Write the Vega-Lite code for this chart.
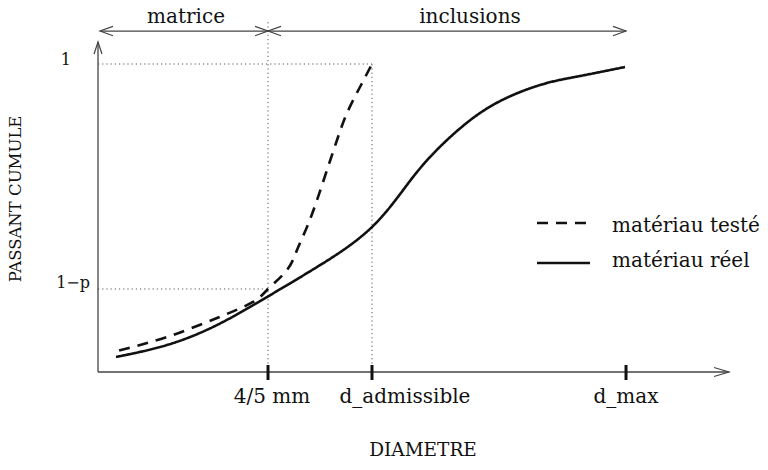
{
  "$schema": "https://vega.github.io/schema/vega-lite/v6.json",
  "width": 768,
  "height": 470,
  "autosize": {"type": "none"},
  "padding": 0,
  "background": "white",
  "config": {"view": {"stroke": null}, "text": {"font": "DejaVu Serif", "color": "#111"}},
  "datasets": {
    "curves": [
      {"serie": "matériau réel", "i": 1, "x": 0.341, "y": 0.0487},
      {"serie": "matériau réel", "i": 2, "x": 1.307, "y": 0.0877},
      {"serie": "matériau réel", "i": 3, "x": 2.254, "y": 0.1526},
      {"serie": "matériau réel", "i": 4, "x": 3.201, "y": 0.2435},
      {"serie": "matériau réel", "i": 5, "x": 4.148, "y": 0.3409},
      {"serie": "matériau réel", "i": 6, "x": 5.189, "y": 0.4708},
      {"serie": "matériau réel", "i": 7, "x": 5.966, "y": 0.6331},
      {"serie": "matériau réel", "i": 8, "x": 6.610, "y": 0.7532},
      {"serie": "matériau réel", "i": 9, "x": 7.235, "y": 0.8409},
      {"serie": "matériau réel", "i": 10, "x": 7.860, "y": 0.8994},
      {"serie": "matériau réel", "i": 11, "x": 8.504, "y": 0.9383},
      {"serie": "matériau réel", "i": 12, "x": 9.129, "y": 0.9610},
      {"serie": "matériau réel", "i": 13, "x": 9.981, "y": 0.9903},
      {"serie": "matériau testé", "i": 1, "x": 0.400, "y": 0.0700},
      {"serie": "matériau testé", "i": 2, "x": 1.307, "y": 0.1136},
      {"serie": "matériau testé", "i": 3, "x": 2.254, "y": 0.1753},
      {"serie": "matériau testé", "i": 4, "x": 2.936, "y": 0.2273},
      {"serie": "matériau testé", "i": 5, "x": 3.220, "y": 0.2695},
      {"serie": "matériau testé", "i": 6, "x": 3.580, "y": 0.3312},
      {"serie": "matériau testé", "i": 7, "x": 3.769, "y": 0.3961},
      {"serie": "matériau testé", "i": 8, "x": 3.958, "y": 0.4708},
      {"serie": "matériau testé", "i": 9, "x": 4.148, "y": 0.5584},
      {"serie": "matériau testé", "i": 10, "x": 4.337, "y": 0.6558},
      {"serie": "matériau testé", "i": 11, "x": 4.527, "y": 0.7532},
      {"serie": "matériau testé", "i": 12, "x": 4.716, "y": 0.8409},
      {"serie": "matériau testé", "i": 13, "x": 4.962, "y": 0.9253},
      {"serie": "matériau testé", "i": 14, "x": 5.189, "y": 1.0}
    ],
    "guides": [
      {"x": 3.22, "x2": 3.22, "y": 0, "y2": 1.136},
      {"x": 5.189, "x2": 5.189, "y": 0, "y2": 1.0},
      {"x": 0, "x2": 5.189, "y": 1.0, "y2": 1.0},
      {"x": 0, "x2": 3.22, "y": 0.2695, "y2": 0.2695}
    ],
    "axes": [
      {"x": 0, "x2": 11.95, "y": 0, "y2": 0},
      {"x": 0, "x2": 0, "y": 0, "y2": 1.0714},
      {"x": 0.038, "x2": 10.0, "y": 1.107, "y2": 1.107}
    ],
    "ticks": [
      {"x": 3.22, "y": -0.026, "y2": 0.0227},
      {"x": 5.189, "y": -0.026, "y2": 0.0227},
      {"x": 10.0, "y": -0.026, "y2": 0.0227}
    ],
    "arrows": [
      {"grp": "top", "dir": "left", "x": 0.038, "y": 1.107},
      {"grp": "top", "dir": "right", "x": 3.22, "y": 1.107},
      {"grp": "top", "dir": "left", "x": 3.22, "y": 1.107},
      {"grp": "top", "dir": "right", "x": 10.0, "y": 1.107},
      {"grp": "xaxis", "dir": "right", "x": 11.95, "y": 0},
      {"grp": "yaxis", "dir": "up", "x": 0, "y": 1.0714}
    ],
    "legend": [
      {"serie": "matériau testé", "x": 8.314, "x2": 9.318, "y": 0.4838},
      {"serie": "matériau réel", "x": 8.314, "x2": 9.318, "y": 0.3539}
    ],
    "labels": [
      {"grp": "top", "text": "matrice", "x": 1.667, "y": 1.1331},
      {"grp": "top", "text": "inclusions", "x": 7.045, "y": 1.1331},
      {"grp": "tick", "text": "4/5 mm", "x": 3.295, "y": -0.1006},
      {"grp": "tick", "text": "d_admissible", "x": 5.814, "y": -0.1006},
      {"grp": "tick", "text": "d_max", "x": 10.0, "y": -0.1006},
      {"grp": "ylab", "text": "1", "x": -0.511, "y": 0.9968},
      {"grp": "ylab", "text": "1−p", "x": -0.1515, "y": 0.2727},
      {"grp": "legend", "text": "matériau testé", "x": 9.735, "y": 0.4545},
      {"grp": "legend", "text": "matériau réel", "x": 9.735, "y": 0.3409},
      {"grp": "xtitle", "text": "DIAMETRE", "x": 6.155, "y": -0.2727},
      {"grp": "ytitle", "text": "PASSANT CUMULE", "x": -1.544, "y": 0.5617}
    ]
  },
  "encoding": {
    "x": {"field": "x", "type": "quantitative", "scale": {"domain": [-1.856, 12.689], "nice": false, "zero": false}, "axis": null},
    "y": {"field": "y", "type": "quantitative", "scale": {"domain": [-0.3182, 1.2078], "nice": false, "zero": false}, "axis": null}
  },
  "layer": [
    {
      "data": {"name": "guides"},
      "mark": {"type": "rule", "color": "#555", "strokeWidth": 1, "strokeDash": [1.2, 3]},
      "encoding": {"x2": {"field": "x2"}, "y2": {"field": "y2"}}
    },
    {
      "data": {"name": "axes"},
      "mark": {"type": "rule", "color": "#444", "strokeWidth": 1.3},
      "encoding": {"x2": {"field": "x2"}, "y2": {"field": "y2"}}
    },
    {
      "data": {"name": "ticks"},
      "mark": {"type": "rule", "color": "#111", "strokeWidth": 3},
      "encoding": {"y2": {"field": "y2"}}
    },
    {
      "data": {"name": "curves"},
      "mark": {"type": "line", "color": "#111", "strokeWidth": 2.6, "interpolate": "natural"},
      "encoding": {
        "strokeDash": {"field": "serie", "type": "nominal", "scale": {"domain": ["matériau testé", "matériau réel"], "range": [[11, 8], [1, 0]]}, "legend": null},
        "order": {"field": "i", "type": "quantitative"}
      }
    },
    {
      "data": {"name": "legend"},
      "mark": {"type": "rule", "color": "#111", "strokeWidth": 2.6},
      "encoding": {
        "x2": {"field": "x2"},
        "strokeDash": {"field": "serie", "type": "nominal", "scale": {"domain": ["matériau testé", "matériau réel"], "range": [[12, 8], [1, 0]]}, "legend": null}
      }
    },
    {
      "data": {"name": "arrows"},
      "transform": [{"filter": "datum.grp === 'top' && datum.dir === 'right'"}],
      "mark": {"type": "point", "shape": "M-1,-0.36L0,0L-1,0.36", "filled": false, "stroke": "#444", "strokeWidth": 1.2, "size": 676, "opacity": 1, "angle": 0}
    },
    {
      "data": {"name": "arrows"},
      "transform": [{"filter": "datum.grp === 'top' && datum.dir === 'left'"}],
      "mark": {"type": "point", "shape": "M-1,-0.36L0,0L-1,0.36", "filled": false, "stroke": "#444", "strokeWidth": 1.2, "size": 676, "opacity": 1, "angle": 180}
    },
    {
      "data": {"name": "arrows"},
      "transform": [{"filter": "datum.grp === 'xaxis'"}],
      "mark": {"type": "point", "shape": "M-1,-0.3L0,0L-1,0.3", "filled": false, "stroke": "#444", "strokeWidth": 1.2, "size": 900, "opacity": 1, "angle": 0}
    },
    {
      "data": {"name": "arrows"},
      "transform": [{"filter": "datum.grp === 'yaxis'"}],
      "mark": {"type": "point", "shape": "M-1,-0.33L0,0L-1,0.33", "filled": false, "stroke": "#444", "strokeWidth": 1.2, "size": 576, "opacity": 1, "angle": 270}
    },
    {
      "data": {"name": "labels"},
      "transform": [{"filter": "datum.grp === 'top' || datum.grp === 'tick'"}],
      "mark": {"type": "text", "fontSize": 20, "align": "center", "baseline": "alphabetic"},
      "encoding": {"text": {"field": "text"}}
    },
    {
      "data": {"name": "labels"},
      "transform": [{"filter": "datum.grp === 'ylab'"}],
      "mark": {"type": "text", "fontSize": 16, "align": "right", "baseline": "alphabetic"},
      "encoding": {"text": {"field": "text"}}
    },
    {
      "data": {"name": "labels"},
      "transform": [{"filter": "datum.grp === 'legend'"}],
      "mark": {"type": "text", "fontSize": 20, "align": "left", "baseline": "alphabetic"},
      "encoding": {"text": {"field": "text"}}
    },
    {
      "data": {"name": "labels"},
      "transform": [{"filter": "datum.grp === 'xtitle'"}],
      "mark": {"type": "text", "fontSize": 18.5, "align": "center", "baseline": "alphabetic"},
      "encoding": {"text": {"field": "text"}}
    },
    {
      "data": {"name": "labels"},
      "transform": [{"filter": "datum.grp === 'ytitle'"}],
      "mark": {"type": "text", "fontSize": 16.5, "align": "center", "baseline": "middle", "angle": 270},
      "encoding": {"text": {"field": "text"}}
    }
  ]
}
